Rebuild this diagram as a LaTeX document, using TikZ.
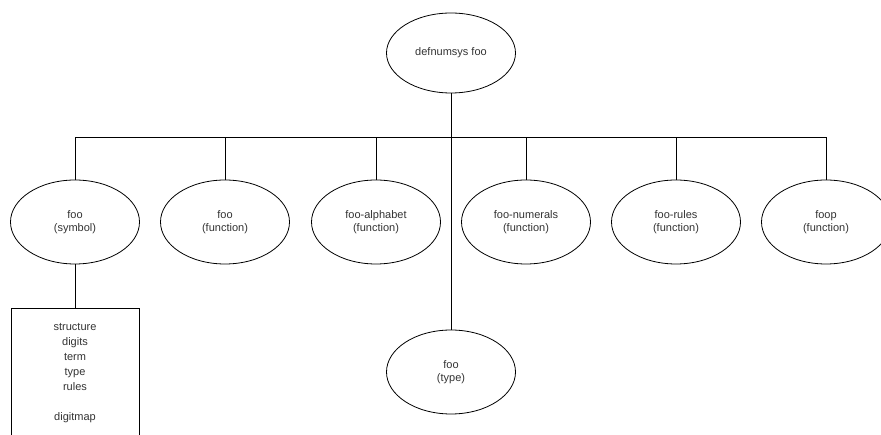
\documentclass[tikz,border=0pt]{standalone}
\usepackage{fontspec}
\setmainfont{Liberation Sans}
\usetikzlibrary{shapes.geometric}
\begin{document}
\begin{tikzpicture}[x=1pt,y=-1pt]

      \useasboundingbox[fill=white] (0,0) rectangle (881,435);

      \begin{scope}[every node/.style={ellipse,draw,line width=0.8pt,inner sep=0pt,
          minimum width=129pt,minimum height=84pt,align=center,
          font=\fontsize{11}{13}\selectfont,text=black!80}]
        \node[minimum height=80pt] (1) at (451,53) {defnumsys foo};
        \node (2) at (75,222)  {foo\\(symbol)};
        \node (3) at (225,222) {foo\\(function)};
        \node (4) at (376,222) {foo-alphabet\\(function)};
        \node (5) at (526,222) {foo-numerals\\(function)};
        \node (6) at (676,222) {foo-rules\\(function)};
        \node (7) at (826,222) {foop\\(function)};
        \node (8) at (451,372) {foo\\(type)};
      \end{scope}

      \node[draw,line width=0.8pt,minimum width=128pt,minimum height=130pt,align=center,
        font=\fontsize{11}{15}\selectfont,text=black!80] (9) at (75,373)
        {structure\\digits\\term\\type\\rules\\[15pt]digitmap};

      \coordinate (10) at (451,137);

      \begin{scope}[line width=0.8pt]
        \draw (1)  -- (10);
        \draw (10) -| (2);
        \draw (10) -| (3);
        \draw (10) -| (4);
        \draw (10) -| (5);
        \draw (10) -| (6);
        \draw (10) -| (7);
        \draw (10) -- (8);
        \draw (2)  -- (9);
      \end{scope}

    \end{tikzpicture}
\end{document}
